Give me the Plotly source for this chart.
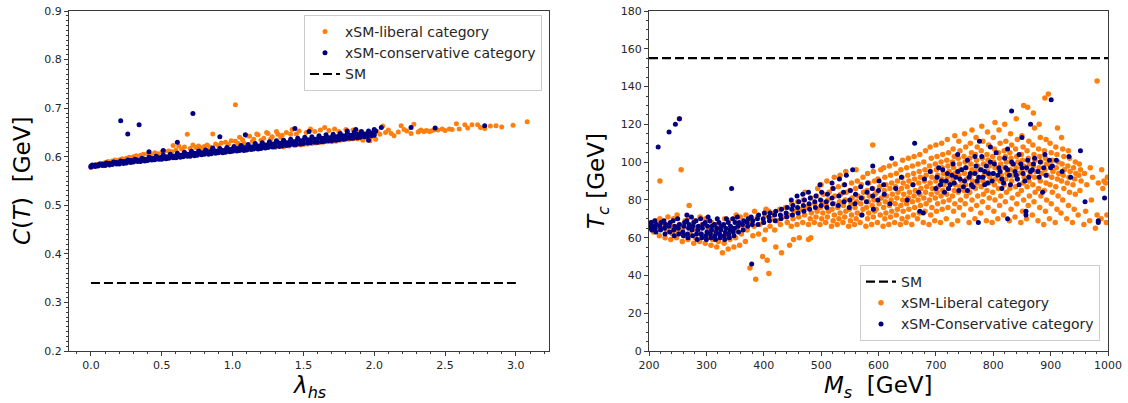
import plotly.graph_objects as go

# ---------------- data ----------------
# Left panel: lambda_hs vs C(T)
left_liberal = [
(0.00,0.578),(0.01,0.580),(0.04,0.584),(0.07,0.586),(0.10,0.588),(0.12,0.590),(0.15,0.591),(0.17,0.593),(0.20,0.594),(0.22,0.596),
(0.25,0.597),(0.27,0.599),(0.30,0.600),(0.32,0.602),(0.35,0.603),(0.37,0.605),(0.40,0.606),(0.42,0.604),(0.45,0.608),(0.47,0.606),
(0.50,0.609),(0.52,0.611),(0.55,0.612),(0.57,0.610),(0.58,0.623),(0.60,0.614),(0.62,0.622),(0.64,0.616),(0.66,0.620),(0.68,0.646),
(0.70,0.617),(0.72,0.624),(0.74,0.619),(0.76,0.622),(0.78,0.618),(0.80,0.621),(0.82,0.624),(0.84,0.620),(0.86,0.647),(0.88,0.626),
(0.90,0.623),(0.92,0.628),(0.95,0.630),(0.97,0.625),(0.99,0.633),(1.02,0.632),(1.02,0.707),(1.04,0.627),(1.05,0.640),(1.07,0.635),
(1.08,0.628),(1.10,0.643),(1.12,0.642),(1.14,0.632),(1.15,0.636),(1.17,0.647),(1.18,0.645),(1.20,0.634),(1.22,0.638),(1.24,0.650),
(1.25,0.648),(1.27,0.637),(1.28,0.641),(1.30,0.619),(1.31,0.652),(1.32,0.646),(1.34,0.640),(1.35,0.644),(1.36,0.620),(1.38,0.650),
(1.40,0.622),(1.41,0.646),(1.42,0.656),(1.44,0.623),(1.45,0.647),(1.47,0.653),(1.48,0.624),(1.50,0.625),(1.52,0.650),(1.53,0.626),
(1.55,0.657),(1.56,0.627),(1.58,0.652),(1.59,0.628),(1.61,0.629),(1.62,0.655),(1.64,0.630),(1.65,0.660),(1.67,0.631),(1.68,0.654),
(1.70,0.631),(1.72,0.657),(1.73,0.632),(1.75,0.652),(1.76,0.634),(1.79,0.635),(1.80,0.656),(1.82,0.636),(1.85,0.637),(1.85,0.655),
(1.88,0.637),(1.90,0.651),(1.91,0.638),(1.92,0.634),(1.94,0.640),(1.97,0.633),(1.98,0.641),(2.01,0.636),(2.02,0.652),(2.04,0.646),
(2.06,0.663),(2.08,0.650),(2.10,0.655),(2.12,0.648),(2.14,0.643),(2.17,0.651),(2.19,0.664),(2.21,0.656),(2.23,0.653),(2.26,0.648),
(2.28,0.667),(2.31,0.651),(2.32,0.653),(2.33,0.655),(2.35,0.652),(2.36,0.653),(2.37,0.654),(2.39,0.652),(2.40,0.653),(2.42,0.655),
(2.45,0.655),(2.48,0.657),(2.50,0.654),(2.53,0.657),(2.55,0.656),(2.58,0.668),(2.60,0.657),(2.64,0.666),(2.66,0.659),(2.69,0.666),
(2.73,0.666),(2.75,0.660),(2.78,0.658),(2.82,0.663),(2.86,0.664),(2.90,0.661),(2.98,0.665),(3.08,0.672),
]
left_conservative = [
(0.00,0.579),(0.00,0.581),(0.01,0.583),(0.03,0.580),(0.03,0.583),(0.05,0.581),(0.05,0.583),(0.06,0.585),(0.08,0.582),(0.08,0.585),
(0.10,0.582),(0.10,0.585),(0.11,0.587),(0.13,0.583),(0.13,0.586),(0.15,0.584),(0.15,0.586),(0.16,0.589),(0.18,0.585),(0.18,0.588),
(0.20,0.585),(0.20,0.588),(0.21,0.591),(0.21,0.674),(0.23,0.586),(0.23,0.590),(0.25,0.587),(0.25,0.590),(0.26,0.593),(0.26,0.647),
(0.28,0.588),(0.28,0.592),(0.30,0.589),(0.30,0.592),(0.31,0.595),(0.33,0.590),(0.33,0.593),(0.34,0.666),(0.35,0.590),(0.35,0.593),
(0.36,0.597),(0.38,0.591),(0.38,0.595),(0.40,0.592),(0.40,0.595),(0.41,0.599),(0.41,0.610),(0.43,0.593),(0.43,0.597),(0.45,0.594),
(0.45,0.597),(0.46,0.601),(0.48,0.595),(0.48,0.598),(0.50,0.595),(0.50,0.599),(0.51,0.603),(0.51,0.613),(0.53,0.596),(0.53,0.600),
(0.55,0.597),(0.55,0.600),(0.56,0.605),(0.58,0.598),(0.58,0.601),(0.60,0.598),(0.60,0.602),(0.61,0.607),(0.61,0.630),(0.63,0.599),
(0.63,0.603),(0.65,0.600),(0.65,0.604),(0.66,0.609),(0.68,0.601),(0.68,0.605),(0.70,0.601),(0.70,0.606),(0.71,0.611),(0.72,0.689),
(0.73,0.602),(0.73,0.607),(0.75,0.603),(0.75,0.607),(0.76,0.612),(0.78,0.604),(0.78,0.608),(0.80,0.605),(0.80,0.609),(0.81,0.614),
(0.83,0.605),(0.83,0.610),(0.85,0.606),(0.85,0.611),(0.86,0.616),(0.86,0.618),(0.88,0.607),(0.88,0.612),(0.90,0.608),(0.90,0.612),
(0.91,0.617),(0.91,0.641),(0.93,0.608),(0.93,0.613),(0.95,0.609),(0.95,0.614),(0.96,0.619),(0.98,0.610),(0.98,0.615),(1.00,0.611),
(1.00,0.616),(1.01,0.621),(1.03,0.612),(1.03,0.617),(1.05,0.613),(1.05,0.618),(1.06,0.623),(1.08,0.613),(1.08,0.619),(1.09,0.645),
(1.10,0.614),(1.10,0.619),(1.11,0.625),(1.13,0.615),(1.13,0.620),(1.15,0.616),(1.15,0.621),(1.16,0.627),(1.18,0.616),(1.18,0.622),
(1.20,0.617),(1.20,0.623),(1.21,0.629),(1.23,0.618),(1.23,0.624),(1.25,0.619),(1.25,0.625),(1.26,0.631),(1.28,0.620),(1.28,0.626),
(1.30,0.621),(1.30,0.627),(1.31,0.633),(1.33,0.621),(1.33,0.628),(1.35,0.622),(1.35,0.628),(1.36,0.634),(1.38,0.623),(1.38,0.629),
(1.40,0.624),(1.40,0.630),(1.41,0.636),(1.43,0.625),(1.43,0.631),(1.44,0.658),(1.45,0.625),(1.45,0.632),(1.46,0.638),(1.48,0.626),
(1.48,0.633),(1.50,0.627),(1.50,0.634),(1.51,0.640),(1.53,0.628),(1.53,0.635),(1.54,0.652),(1.55,0.629),(1.55,0.635),(1.56,0.641),
(1.58,0.630),(1.58,0.636),(1.60,0.630),(1.60,0.637),(1.61,0.643),(1.63,0.631),(1.63,0.638),(1.65,0.632),(1.65,0.638),(1.66,0.645),
(1.68,0.633),(1.68,0.639),(1.70,0.633),(1.70,0.640),(1.71,0.646),(1.73,0.634),(1.73,0.641),(1.75,0.635),(1.75,0.642),(1.76,0.648),
(1.78,0.636),(1.78,0.643),(1.80,0.637),(1.80,0.643),(1.81,0.649),(1.81,0.653),(1.83,0.638),(1.83,0.644),(1.85,0.638),(1.85,0.645),
(1.86,0.651),(1.87,0.656),(1.88,0.639),(1.88,0.646),(1.90,0.640),(1.90,0.646),(1.91,0.652),(1.93,0.641),(1.93,0.647),(1.95,0.642),
(1.95,0.648),(1.96,0.653),(1.96,0.634),(1.98,0.643),(1.98,0.649),(2.00,0.644),(2.00,0.649),(2.00,0.656),(2.01,0.653),(2.05,0.660),
(2.26,0.660),(2.43,0.659),(2.78,0.664),
]
left_sm_x = [0.0, 3.0]
left_sm_y = [0.34, 0.34]

# Right panel: M_s vs T_c
right_liberal = [
(202,66),(204,68),(208,63),(211,67),(213,69),(218,61),(221,65),(223,68),(219,70),(228,60),(231,64),(229,67),(233,71),(238,59),(241,62),
(239,66),(243,70),(248,60),(251,63),(253,67),(249,72),(258,58),(261,61),(259,65),(263,69),(268,59),(271,62),(273,66),(269,71),(270,77),
(278,57),(281,60),(283,64),(279,69),(288,58),(291,62),(293,67),(289,71),(298,57),(301,60),(303,64),(299,70),(308,56),(311,59),(313,63),
(309,68),(318,55),(321,58),(323,62),(319,67),(328,52),(331,57),(333,61),(329,66),(332,70),(338,54),(341,59),(343,64),(339,69),(348,55),
(351,60),(353,65),(349,70),(352,72),(358,56),(361,62),(363,66),(359,71),(368,58),(371,64),(373,68),(369,72),(376,44),(381,61),(383,66),
(379,70),(384,74),(386,38),(391,62),(393,67),(389,71),(398,50),(401,59),(403,64),(399,68),(402,72),(404,75),(406,48),(409,41),(411,66),
(413,70),(409,74),(421,55),(419,64),(423,69),(418,73),(431,52),(429,67),(433,71),(428,75),(445,56),(441,68),(443,72),(438,76),(452,59),
(448,66),(451,70),(453,74),(449,78),(462,60),(458,67),(461,71),(463,75),(459,79),(478,59),(468,68),(471,72),(473,76),(469,80),(472,84),
(482,60),(478,67),(481,70),(483,73),(479,77),(482,81),(488,68),(491,71),(493,74),(489,78),(492,82),(494,86),(498,67),(501,70),(503,73),
(499,76),(502,79),(504,83),(500,88),(508,68),(511,71),(513,74),(509,77),(512,80),(514,84),(510,90),(518,66),(521,69),(523,72),(519,75),
(522,78),(524,82),(520,86),(523,92),(528,67),(531,70),(533,73),(529,76),(532,79),(534,83),(530,87),(533,93),(538,68),(541,71),(543,74),
(539,77),(542,80),(544,84),(540,88),(543,95),(548,66),(551,69),(553,72),(549,75),(552,78),(554,81),(550,85),(553,89),(558,67),(561,70),
(563,73),(559,76),(562,79),(564,82),(560,86),(563,90),(561,96),(568,68),(571,72),(573,75),(569,78),(572,81),(574,84),(570,88),(573,92),
(578,66),(581,70),(583,73),(579,76),(582,79),(584,82),(580,85),(583,89),(581,94),(588,67),(591,71),(593,74),(589,77),(592,80),(594,83),
(590,86),(593,90),(591,95),(590,109),(598,68),(603,72),(596,75),(601,78),(605,81),(597,84),(602,87),(599,91),(604,96),(608,66),(611,70),
(613,73),(609,76),(612,79),(614,82),(610,85),(613,88),(611,92),(609,97),(618,67),(621,71),(623,74),(619,77),(622,80),(624,83),(620,86),
(623,89),(621,93),(619,98),(628,68),(631,72),(633,75),(629,78),(632,81),(634,84),(630,87),(633,90),(631,94),(629,99),(638,67),(641,70),
(643,74),(639,77),(642,80),(644,83),(640,86),(643,89),(641,92),(639,96),(642,101),(648,68),(651,71),(653,75),(649,78),(652,81),(654,84),
(650,87),(653,90),(651,93),(649,97),(652,102),(658,67),(661,72),(663,76),(659,79),(662,82),(664,85),(660,88),(663,91),(661,94),(659,98),
(662,103),(668,70),(671,73),(673,77),(669,80),(672,83),(674,86),(670,89),(673,92),(671,95),(669,99),(672,104),(678,68),(681,74),(683,78),
(679,81),(682,84),(684,87),(680,90),(683,93),(681,96),(679,100),(682,106),(688,67),(691,72),(693,76),(689,80),(692,83),(694,86),(690,89),
(693,92),(691,95),(689,98),(692,102),(690,108),(698,69),(701,74),(703,78),(699,81),(702,84),(704,87),(700,90),(703,93),(701,96),(699,99),
(702,103),(700,109),(708,68),(711,75),(713,79),(709,82),(712,85),(714,88),(710,91),(713,94),(711,97),(709,100),(712,104),(710,110),(718,70),
(721,76),(723,80),(719,83),(722,86),(724,89),(720,92),(723,95),(721,98),(719,101),(722,105),(720,112),(728,67),(731,74),(733,78),(729,82),
(732,85),(734,88),(730,91),(733,94),(731,97),(729,100),(732,103),(730,107),(733,114),(738,69),(741,76),(743,80),(739,84),(742,87),(744,90),
(740,93),(743,96),(741,99),(739,102),(742,106),(740,111),(748,72),(751,78),(753,82),(749,85),(752,88),(754,91),(750,94),(753,97),(751,100),
(749,103),(752,108),(750,115),(758,68),(761,75),(763,80),(759,84),(762,87),(764,90),(760,93),(763,96),(761,99),(759,102),(762,105),(760,110),
(763,117),(768,70),(771,77),(773,82),(769,86),(772,89),(774,92),(770,95),(773,98),(771,101),(769,104),(772,108),(770,113),(778,73),(781,79),
(783,83),(779,87),(782,90),(784,93),(780,96),(783,99),(781,102),(779,106),(782,111),(780,119),(788,69),(791,76),(793,81),(789,85),(792,89),
(794,92),(790,95),(793,98),(791,101),(789,104),(792,109),(790,116),(798,68),(801,74),(803,80),(799,84),(802,88),(804,91),(800,94),(803,97),
(801,100),(799,103),(802,107),(800,113),(803,121),(808,70),(811,77),(813,82),(809,86),(812,90),(814,93),(810,96),(813,99),(811,102),(809,105),
(812,110),(810,117),(818,72),(821,79),(823,84),(819,88),(822,91),(824,94),(820,97),(823,100),(821,103),(819,106),(822,111),(820,120),(828,69),
(831,75),(833,81),(829,86),(832,90),(834,93),(830,96),(833,99),(831,102),(829,105),(832,109),(830,115),(838,71),(841,78),(843,83),(839,87),
(842,91),(844,94),(840,97),(843,100),(841,103),(839,107),(842,112),(840,123),(848,68),(851,74),(853,80),(849,85),(852,89),(854,92),(850,95),
(853,98),(851,101),(849,104),(852,108),(850,114),(853,130),(858,70),(861,77),(863,82),(859,87),(862,90),(864,93),(860,96),(863,99),(861,102),
(859,106),(862,111),(860,129),(868,72),(871,79),(873,84),(869,88),(872,92),(874,95),(870,98),(873,101),(871,104),(869,109),(872,118),(870,126),
(878,69),(881,76),(883,82),(879,86),(882,90),(884,94),(880,97),(883,100),(881,103),(879,107),(882,113),(880,120),(888,67),(891,74),(893,80),
(889,85),(892,89),(894,93),(890,96),(893,99),(891,102),(889,106),(892,112),(890,134),(898,70),(901,78),(903,84),(899,88),(902,92),(904,95),
(900,98),(903,101),(901,105),(899,110),(896,136),(908,68),(911,75),(913,82),(909,87),(912,91),(914,94),(910,97),(913,100),(911,104),(909,108),
(912,118),(918,73),(921,80),(923,86),(919,90),(922,93),(924,96),(920,99),(923,103),(921,107),(919,113),(928,70),(931,77),(933,84),(929,89),
(932,92),(934,95),(930,98),(933,102),(931,106),(938,68),(941,75),(943,83),(939,88),(942,91),(944,94),(940,97),(943,100),(948,72),(951,85),
(953,90),(949,93),(952,96),(950,99),(958,67),(961,74),(963,88),(959,94),(968,69),(971,80),(973,92),(969,97),(978,65),(981,72),(983,89),
(981,143),(988,70),(991,86),(993,90),(989,96),(997,68),(998,72),(996,89),(999,92),(219,90),(256,96),(253,123),
]
right_conservative = [
(200,65),(201,67),(205,64),(206,66),(204,68),(212,63),(211,65),(213,67),(210,69),(220,64),(219,66),(221,68),(228,62),(227,65),(229,67),
(226,69),(236,63),(235,66),(237,68),(244,61),(243,64),(245,66),(242,69),(252,62),(251,65),(253,67),(250,70),(260,61),(259,63),(261,66),
(262,68),(266,72),(268,60),(267,62),(269,65),(270,67),(266,69),(276,61),(275,64),(277,66),(278,68),(274,71),(284,59),(283,62),(285,64),
(286,66),(282,69),(292,60),(291,62),(293,65),(294,67),(290,70),(300,59),(299,61),(301,63),(302,66),(298,68),(303,71),(308,60),(307,62),
(309,64),(310,66),(306,69),(316,59),(315,61),(317,63),(318,65),(314,67),(319,70),(324,60),(323,62),(325,64),(326,66),(322,68),(332,59),
(331,61),(333,63),(334,65),(330,67),(335,70),(340,60),(339,62),(341,64),(342,66),(338,68),(348,61),(347,63),(349,65),(350,68),(346,70),
(356,63),(355,66),(357,68),(354,71),(364,64),(363,67),(365,69),(372,66),(371,68),(373,70),(379,46),(380,67),(381,69),(378,71),(390,67),
(389,70),(391,72),(400,68),(399,70),(401,73),(410,69),(409,71),(411,73),(420,69),(419,72),(421,74),(430,70),(429,72),(431,75),(440,71),
(439,73),(441,76),(450,72),(449,75),(451,77),(448,80),(460,73),(459,76),(461,79),(458,82),(470,74),(469,77),(471,80),(468,83),(480,75),
(479,78),(481,81),(478,84),(490,76),(489,79),(491,82),(500,77),(499,80),(501,84),(498,88),(510,76),(509,79),(511,83),(520,78),(519,81),
(521,86),(519,89),(532,91),(530,77),(531,82),(540,79),(539,84),(541,88),(544,93),(550,80),(549,76),(551,85),(555,96),(560,83),(559,78),
(570,81),(569,87),(571,72),(580,84),(579,79),(581,89),(590,98),(590,82),(589,86),(591,75),(600,85),(599,80),(601,90),(610,83),(609,88),
(623,102),(620,78),(630,86),(640,92),(650,80),(660,88),(663,110),(670,84),(672,74),(678,73),(680,91),(690,95),(700,86),(705,97),(710,90),
(715,84),(720,94),(725,88),(730,99),(735,92),(740,85),(745,96),(750,90),(755,101),(760,94),(765,87),(770,98),(774,68),(775,92),(776,111),
(780,103),(785,95),(790,89),(795,100),(800,94),(805,105),(810,97),(815,91),(820,102),(825,96),(825,70),(830,88),(832,127),(835,99),(840,93),
(845,104),(850,97),(850,113),(855,90),(857,74),(857,72),(860,101),(865,95),(865,120),(870,99),(880,92),(886,84),(890,104),(900,97),(901,133),
(903,98),(910,101),(920,95),(932,103),(935,92),(952,106),(960,79),(983,69),(983,68),(994,81),(216,108),(235,116),(246,120),(253,123),(344,86),
(702,92),(708,88),(712,96),(718,90),(722,86),(728,93),(732,89),(738,95),(742,91),(748,87),(752,97),(758,92),(762,88),(768,94),(772,90),
(778,96),(782,92),(788,98),(792,94),(798,90),(802,99),(808,93),(812,95),(818,89),(822,97),(828,93),(832,100),(838,95),(842,91),(848,99),
(852,94),(858,97),(862,92),(868,96),(872,102),(878,95),(882,100),(888,97),(892,93),(898,101),(755,85),(785,88),(815,86),(845,88),(795,108),
(825,107),(768,103),(738,104),
]
right_sm_x = [200, 1000]
right_sm_y = [155, 155]

# ---------------- figure ----------------
W, H = 1128, 403
ORANGE = "#ff7f0e"
NAVY = "#000080"
FONT = "DejaVu Sans"
AX = "#3a3a3a"


def xs(pts):
    return [p[0] for p in pts]


def ys(pts):
    return [p[1] for p in pts]


fig = go.Figure()

# left panel
fig.add_trace(go.Scatter(x=xs(left_liberal), y=ys(left_liberal), mode="markers",
                         marker=dict(color=ORANGE, size=5, line=dict(width=0)),
                         name="xSM-liberal category", legend="legend", legendgroup="a",
                         xaxis="x", yaxis="y"))
fig.add_trace(go.Scatter(x=xs(left_conservative), y=ys(left_conservative), mode="markers",
                         marker=dict(color=NAVY, size=5, line=dict(width=0)),
                         name="xSM-conservative category", legend="legend", legendgroup="b",
                         xaxis="x", yaxis="y"))
fig.add_trace(go.Scatter(x=left_sm_x, y=left_sm_y, mode="lines",
                         line=dict(color="black", width=2.2, dash="9px,4px"),
                         name="SM", legend="legend", legendgroup="c",
                         xaxis="x", yaxis="y"))

# right panel
fig.add_trace(go.Scatter(x=right_sm_x, y=right_sm_y, mode="lines",
                         line=dict(color="black", width=2.2, dash="9px,4px"),
                         name="SM", legend="legend2", legendgroup="d",
                         xaxis="x2", yaxis="y2"))
fig.add_trace(go.Scatter(x=xs(right_liberal), y=ys(right_liberal), mode="markers",
                         marker=dict(color=ORANGE, size=5.5, line=dict(width=0)),
                         name="xSM-Liberal category", legend="legend2", legendgroup="e",
                         xaxis="x2", yaxis="y2"))
fig.add_trace(go.Scatter(x=xs(right_conservative), y=ys(right_conservative), mode="markers",
                         marker=dict(color=NAVY, size=5, line=dict(width=0)),
                         name="xSM-Conservative category", legend="legend2", legendgroup="f",
                         xaxis="x2", yaxis="y2"))


def axis(domain, rng, dtick, minor_dtick, fmt=None, anchor=None):
    d = dict(domain=domain, range=rng, tickmode="linear", tick0=0, dtick=dtick,
             showline=True, linecolor=AX, linewidth=1, mirror=True,
             ticks="outside", ticklen=4, tickwidth=1, tickcolor=AX,
             showgrid=False, zeroline=False, automargin=False,
             tickfont=dict(family=FONT, size=11, color="#262626"),
             minor=dict(ticks="outside", ticklen=2, tickwidth=1, tickcolor=AX,
                        dtick=minor_dtick, tick0=0, showgrid=False),
             anchor=anchor)
    if fmt:
        d["tickformat"] = fmt
    return d


ydom = [1 - 351 / H, 1 - 11 / H]
fig.update_layout(
    width=W, height=H,
    margin=dict(l=0, r=0, t=0, b=0),
    paper_bgcolor="white", plot_bgcolor="white",
    showlegend=True,
    xaxis=axis([69 / W, 549 / W], [-0.155, 3.234], 0.5, 0.1, ".1f", "y"),
    yaxis=axis(ydom, [0.2, 0.9], 0.1, 0.01, ".1f", "x"),
    xaxis2=axis([649 / W, 1108 / W], [200, 1000], 100, 20, None, "y2"),
    yaxis2=axis(ydom, [0, 180], 20, 5, None, "x2"),
    legend=dict(x=542 / W, xanchor="right", y=1 - 15 / H, yanchor="top",
                bgcolor="white", bordercolor="#cccccc", borderwidth=1,
                font=dict(family=FONT, size=14, color="#262626"),
                tracegroupgap=0, itemwidth=30),
    legend2=dict(x=1100 / W, xanchor="right", y=1 - 341 / H, yanchor="bottom",
                 bgcolor="white", bordercolor="#cccccc", borderwidth=1,
                 font=dict(family=FONT, size=14, color="#262626"),
                 tracegroupgap=0, itemwidth=30),
)

title_font = dict(family=FONT, size=23, color="black")
annots = [
    dict(x=22 / W, y=1 - 181 / H, text="<i>C</i>(<i>T</i>)&nbsp;&nbsp;[GeV]", textangle=-90),
    dict(x=309 / W, y=1 - 387 / H, text="<i>λ</i><sub><i>hs</i></sub>", textangle=0),
    dict(x=598 / W, y=1 - 181 / H, text="<i>T</i><sub><i>c</i></sub> [GeV]", textangle=-90),
    dict(x=878.5 / W, y=1 - 387 / H, text="<i>M</i><sub><i>s</i></sub>&nbsp;&nbsp;[GeV]", textangle=0),
]
for a in annots:
    fig.add_annotation(xref="paper", yref="paper", showarrow=False,
                       xanchor="center", yanchor="middle", font=title_font, **a)

fig.write_html("out.html")
